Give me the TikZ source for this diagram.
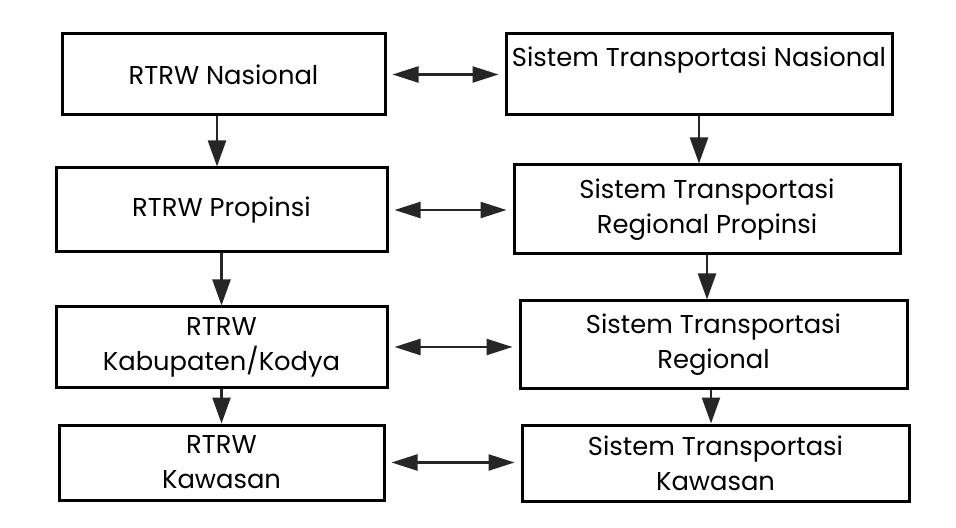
\documentclass[tikz,border=0pt]{standalone}
\usepackage{fontspec}
\setmainfont{Poppins}
\usetikzlibrary{arrows.meta}

\tikzset{
  blok/.style={draw, line width=1.5pt, align=center, inner sep=0pt,
    font=\fontsize{12.9}{17.5}\selectfont},
  panah/.style={line width=1.2pt, draw=black!85,
    -{Triangle[length=13pt, width=9pt]}},
  dua/.style={line width=1.2pt, draw=black!85,
    {Triangle[length=13pt, width=8pt]}-{Triangle[length=13pt, width=8pt]},
    shorten <=3pt, shorten >=3pt}
}

\begin{document}
\begin{tikzpicture}[x=0.5pt, y=-0.5pt]
\useasboundingbox (0,0) rectangle (956,528);
% kolom kiri: RTRW
\node[blok, minimum width=161.5pt, minimum height=40.5pt] (rn) at (223.5,74.5) {RTRW Nasional};
\node[blok, minimum width=165.5pt, minimum height=42pt] (rp) at (221.5,210) {RTRW Propinsi};
\node[blok, minimum width=165.5pt, minimum height=40pt] (rk) at (221.5,347) {RTRW\\Kabupaten/Kodya};
\node[blok, minimum width=162.5pt, minimum height=37.5pt] (rw) at (221.5,462.5) {RTRW\\Kawasan};
% kolom kanan: sistem transportasi
\node[blok, minimum width=193pt, minimum height=40.5pt] (tn) at (699,74.5) {Sistem Transportasi Nasional\\ \mbox{}};
\node[blok, minimum width=193pt, minimum height=44.5pt] (tp) at (707,209.5) {Sistem Transportasi\\Regional Propinsi};
\node[blok, minimum width=193.5pt, minimum height=43.5pt] (tk) at (713.5,344.5) {Sistem Transportasi\\Regional};
\node[blok, minimum width=193.5pt, minimum height=38pt] (tw) at (715.5,463) {Sistem Transportasi\\Kawasan};
% panah turun
\draw[panah] ([xshift=-3.25pt]rn.south) -- ([xshift=-3.25pt]rn.south |- rp.north);
\draw[panah] (rp.south) -- (rp.south |- rk.north);
\draw[panah] (rk.south) -- (rk.south |- rw.north);
\draw[panah] (tn.south) -- (tn.south |- tp.north);
\draw[panah] (tp.south) -- (tp.south |- tk.north);
\draw[panah] ([xshift=-1.25pt]tk.south) -- ([xshift=-1.25pt]tk.south |- tw.north);
% panah dua arah
\foreach \a/\b in {rn/tn, rp/tp, rk/tk, rw/tw}
  \draw[dua] (\a.east) -- (\a.east -| \b.west);
\end{tikzpicture}
\end{document}
